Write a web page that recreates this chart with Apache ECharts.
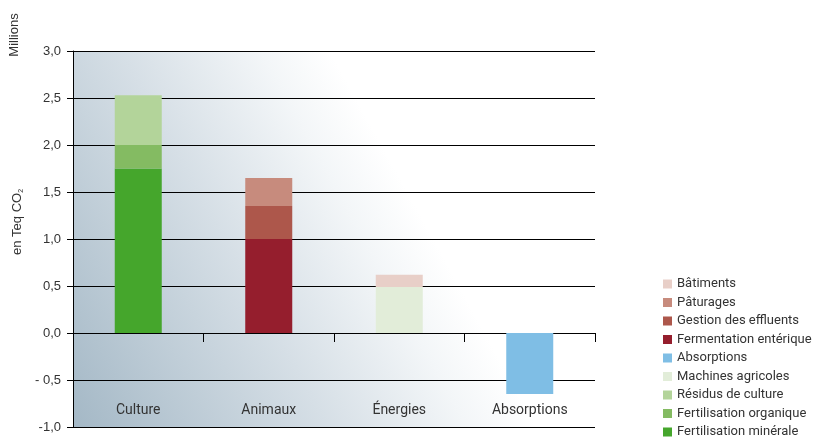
<!DOCTYPE html>
<html>
<head>
<meta charset="utf-8">
<script src="https://cdn.jsdelivr.net/npm/echarts@6/dist/echarts.min.js"></script>
<style>
    html, body { margin: 0; padding: 0; background: #fff; }
    #chart { width: 816px; height: 439px; }
</style>
</head>
<body>
<div id="chart"></div>
<script>
var categories = ["Culture", "Animaux", "Énergies", "Absorptions"];
var yTickLabels = ["-1,0", "- 0,5", "0,0", "0,5", "1,0", "1,5", "2,0", "2,5", "3,0"];

// valeurs en millions de t eq CO2, par catégorie (Culture, Animaux, Énergies, Absorptions)
var fertMinerale = [1.75, "-", "-", "-"];
var fertOrganique = [0.25, "-", "-", "-"];
var residus = [0.53, "-", "-", "-"];
var machines = ["-", "-", 0.49, "-"];
var absorptions = ["-", "-", "-", -0.65];
var fermentation = ["-", 1.0, "-", "-"];
var effluents = ["-", 0.35, "-", "-"];
var paturages = ["-", 0.3, "-", "-"];
var batiments = ["-", "-", 0.13, "-"];

var seriesList = [
    { name: "Fertilisation minérale", data: fertMinerale, color: "#45a62c" },
    { name: "Fertilisation organique", data: fertOrganique, color: "#84bb62" },
    { name: "Résidus de culture", data: residus, color: "#b3d49a" },
    { name: "Machines agricoles", data: machines, color: "#e2edd9" },
    { name: "Absorptions", data: absorptions, color: "#7fbee5" },
    { name: "Fermentation entérique", data: fermentation, color: "#951e2d" },
    { name: "Gestion des effluents", data: effluents, color: "#ad574b" },
    { name: "Pâturages", data: paturages, color: "#c78b7d" },
    { name: "Bâtiments", data: batiments, color: "#e8cfc8" },
];

var mychart = echarts.init(document.getElementById("chart"));

var option = {
    animation: false,
    textStyle: { fontFamily: "Roboto" },
    grid: {
        left: 73,
        right: 221,
        top: 51,
        bottom: 12,
        containLabel: false,
        outerBoundsMode: "none",
        show: true,
        borderWidth: 0,
        backgroundColor: new echarts.graphic.LinearGradient(73, 427, 429, 231, [
            { offset: 0, color: "#a4b8c6" },
            { offset: 0.55, color: "#d6dfe6" },
            { offset: 0.85, color: "#f3f6f8" },
            { offset: 1, color: "#ffffff" },
        ], true),
    },
    legend: {
        orient: "vertical",
        left: 663,
        top: 277,
        padding: 0,
        itemWidth: 9,
        itemHeight: 9,
        itemGap: 4.5,
        icon: "rect",
        textStyle: { color: "#333", fontSize: 13, lineHeight: 14 },
        data: seriesList.map(function (s) { return s.name; }).reverse(),
    },
    graphic: [
        {
            type: "text",
            x: 14,
            y: 35,
            rotation: Math.PI / 2,
            style: {
                text: "Millions",
                fontFamily: "Liberation Sans",
                fontSize: 13,
                fill: "#333",
                align: "center",
                verticalAlign: "middle",
            },
        },
        {
            type: "text",
            x: 17,
            y: 222,
            rotation: Math.PI / 2,
            style: {
                text: "{a|en Teq CO}{s|2}",
                fill: "#333",
                align: "center",
                verticalAlign: "middle",
                rich: {
                    a: { fontFamily: "Liberation Sans", fontSize: 13, lineHeight: 16, fill: "#333" },
                    s: { fontFamily: "Liberation Sans", fontSize: 7, lineHeight: 16, verticalAlign: "bottom", fill: "#333" },
                },
            },
        },
    ],
    xAxis: [
        {
            type: "category",
            data: categories,
            axisLine: { onZero: true, lineStyle: { color: "#000", width: 1 } },
            axisTick: { show: true, length: 9, lineStyle: { color: "#000" } },
            axisLabel: { show: false },
            splitLine: { show: false },
        },
        {
            // étiquettes des catégories, placées dans le bas de la zone
            type: "category",
            data: categories,
            position: "bottom",
            axisLine: { show: false },
            axisTick: { show: false },
            axisLabel: { inside: true, margin: 10, color: "#333", fontSize: 14 },
            splitLine: { show: false },
        },
    ],
    yAxis: {
        type: "value",
        min: -1,
        max: 3,
        interval: 0.5,
        axisLine: { show: true, lineStyle: { color: "#000", width: 1 } },
        axisTick: { show: true, length: 6, lineStyle: { color: "#000" } },
        axisLabel: {
            color: "#333",
            fontSize: 13,
            fontFamily: "Liberation Sans",
            margin: 12,
            formatter: function (v, i) { return yTickLabels[i]; },
        },
        splitLine: { show: true, lineStyle: { color: "#000", width: 1 } },
    },
    series: seriesList.map(function (s) {
        return {
            name: s.name,
            type: "bar",
            stack: "total",
            barWidth: 47,
            itemStyle: { color: s.color },
            data: s.data,
        };
    }),
};

mychart.setOption(option);
</script>
</body>
</html>
